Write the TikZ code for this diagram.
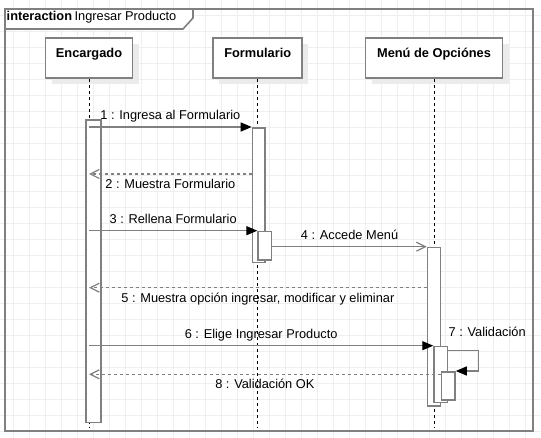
\documentclass[tikz,border=0pt]{standalone}
\usepackage{fontspec}
\setmainfont{Liberation Sans}
\usetikzlibrary{arrows.meta,shadows,positioning}

\definecolor{linegray}{HTML}{808080}
\definecolor{gridgray}{HTML}{EFEFEF}
\definecolor{shadowgray}{HTML}{EBEBEB}

\tikzset{
  gridline/.style={draw=gridgray, line width=1pt},
  framebox/.style={draw=linegray, line width=1.6pt},
  lifebox/.style={draw=linegray, line width=1.6pt, fill=white, anchor=north,
    minimum width=#1, minimum height=40pt, inner ysep=0pt,
    text height=19pt, text depth=21pt, font=\fontsize{12.8}{15}\selectfont\bfseries,
    drop shadow={shadow xshift=6pt, shadow yshift=-6pt, fill=shadowgray, opacity=1}},
  lifeline/.style={draw=black, line width=0.9pt, dash pattern=on 3pt off 3pt},
  act/.style={draw=linegray, line width=1.6pt, fill=white, anchor=north west,
    inner sep=0pt, minimum width=13.5pt, minimum height=#1},
  call/.style={draw=linegray, line width=1.2pt, -{Triangle[length=11pt,width=9pt,color=black]}},
  async/.style={draw=linegray, line width=1.2pt, -{Straight Barb[length=9pt,width=9pt]}},
  reply/.style={draw=linegray, line width=1.2pt, dash pattern=on 3pt off 3pt,
    -{Straight Barb[length=9pt,width=9pt]}},
  msglabel/.style={text height=9.5pt, text depth=2.5pt, inner ysep=4.3pt},
}

\begin{document}
\begin{tikzpicture}[x=1pt, y=-1pt, font=\fontsize{12.8}{15}\selectfont]
\useasboundingbox (0,0) rectangle (541,438);

% background grid
\foreach \k in {0,...,32}
  \draw[gridline] (13.3+16*\k,0) -- (13.3+16*\k,438);
\foreach \k in {0,...,26}
  \draw[gridline] (0,15.5+16*\k) -- (541,15.5+16*\k);

% interaction frame
\draw[framebox, fill=white] (5,9) -- (193,9) -- (193,18) -- (183,29) -- (5,29);
\draw[framebox] (5,9) rectangle (533,431);
\node[anchor=base west, inner sep=0pt] (title) at (6.5,21)
  {\textbf{interaction}\hspace{2.5pt}Ingresar Producto};

% lifelines
\node[lifebox=87pt]  (enc)  at (89,37.5)    {Encargado};
\node[lifebox=89pt]  (form) at (257.7,37.5) {Formulario};
\node[lifebox=137pt] (menu) at (434,37.5)   {Menú de Opciónes};

\coordinate (lifeEnd) at (0,428);
\foreach \obj in {enc,form,menu}
  \draw[lifeline] (\obj.south) -- (\obj.south |- lifeEnd);

% activations
\node[act=302.7pt, minimum width=15pt] (encAct) at (85,119) {};
\node[act=134.7pt, minimum width=12.6pt] (formAct1) at (251.7,127) {};
\node[act=28.6pt] (formAct2) at (257.3,230.7) {};
\node[act=158.3pt, minimum width=13pt] (menuAct1) at (426.7,246.7) {};
\node[act=56pt] (menuAct2) at (433.3,345.7) {};
\node[act=28.3pt] (menuAct3) at (440.7,371) {};

% message heights
\coordinate (y2) at (0,174);
\coordinate (y5) at (0,287.7);
\coordinate (y7) at (0,350.7);
\coordinate (y8) at (0,374.3);

% messages
\draw[call] (enc.south |- formAct1.north west) --
  node[msglabel, above] (l1) {1 : Ingresa al Formulario} (formAct1.north west);
\draw[reply] (formAct1.west |- y2) --
  node[msglabel, below] (l2) {2 : Muestra Formulario} (enc.south |- y2);
\draw[call] (enc.south |- formAct2.north west) --
  node[msglabel, above] (l3) {3 : Rellena Formulario} (formAct2.north west);
\draw[async] (formAct2.east |- menuAct1.north west) --
  node[msglabel, above] (l4) {4 : Accede Menú} (menuAct1.north west);
\draw[reply] (menuAct1.west |- y5) --
  node[msglabel, below] (l5) {5 : Muestra opción ingresar, modificar y eliminar} (enc.south |- y5);
\draw[call] (enc.south |- menuAct2.north west) --
  node[msglabel, above] (l6) {6 : Elige Ingresar Producto} (menuAct2.north west);
\draw[call] (menuAct2.east |- y7) -- ++(30.3,0) |- (menuAct3.north east);
\node[anchor=base west, inner sep=0pt] (l7) at ([yshift=14pt]menuAct2.east |- y7) {7 : Validación};
\draw[reply] (menuAct3.west |- y8) --
  node[msglabel, below] (l8) {8 : Validación OK} (enc.south |- y8);
\end{tikzpicture}
\end{document}
